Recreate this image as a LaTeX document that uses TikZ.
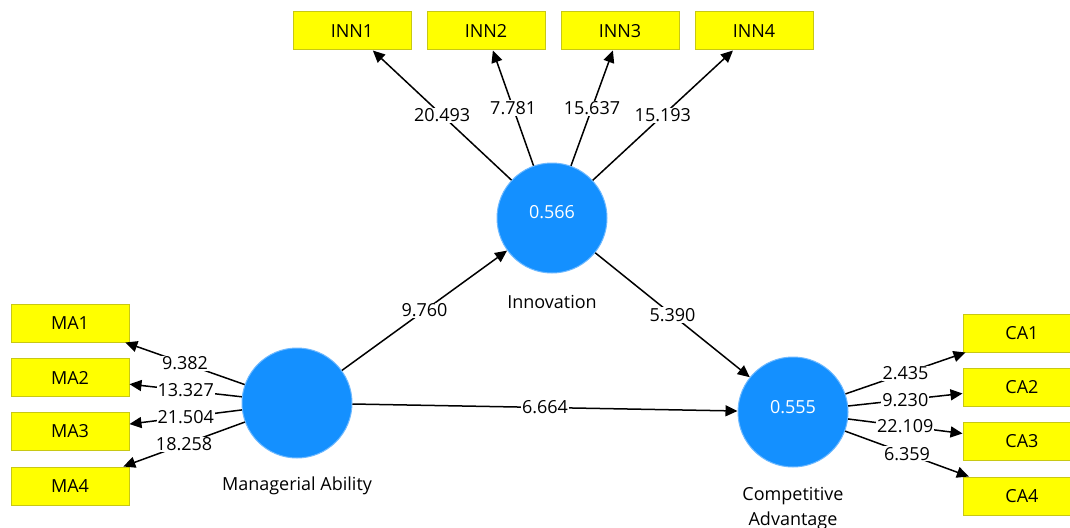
\documentclass[tikz,border=0pt]{standalone}
\usepackage{fontspec}
\setmainfont{Open Sans}
\usetikzlibrary{arrows.meta}
\definecolor{lvblue}{RGB}{20,144,255}
\definecolor{lvrim}{RGB}{110,185,255}
\definecolor{indfill}{RGB}{255,255,0}
\definecolor{indrim}{RGB}{200,200,20}
\tikzset{
  every node/.style={font=\fontsize{18}{25}\selectfont},
  latent/.style={circle, fill=lvblue, draw=lvrim, line width=1pt,
    minimum size=110pt, inner sep=0pt, text=white},
  indicator/.style={rectangle, fill=indfill, draw=indrim, line width=1pt,
    minimum width=118pt, minimum height=38pt, inner sep=0pt},
  path/.style={line width=1.5pt, -{Triangle[length=12pt,width=11pt]}},
  coef/.style={fill=white, inner sep=1pt, midway},
  lvname/.style={inner sep=0pt, align=center}
}
\begin{document}
\begin{tikzpicture}[x=1pt,y=-1pt]
\useasboundingbox (0,0) rectangle (1070,527);

% latent variables
\node[latent] (inn) at (552,218) {};
\node[latent] (ma)  at (297,403) {};
\node[latent] (ca)  at (793,412) {};
\node[text=white] (innr2) at (552,212) {0.566};
\node[text=white] (car2)  at (793,407) {0.555};

\node[lvname] (innname) at (552,302) {Innovation};
\node[lvname] (maname)  at (297,486) {Managerial Ability};
\node[lvname, anchor=north] (caname) at (793,487) {Competitive\\Advantage};

% indicators
\node[indicator] (inn1) at (352,31) {INN1};
\node[indicator] (inn2) at (486,31) {INN2};
\node[indicator] (inn3) at (620,31) {INN3};
\node[indicator] (inn4) at (754,31) {INN4};

\node[indicator] (ma1) at (70,323)   {MA1};
\node[indicator] (ma2) at (70,377.5) {MA2};
\node[indicator] (ma3) at (70,431.5) {MA3};
\node[indicator] (ma4) at (70,486)   {MA4};

\node[indicator] (ca1) at (1022,333) {CA1};
\node[indicator] (ca2) at (1022,387) {CA2};
\node[indicator] (ca3) at (1022,441) {CA3};
\node[indicator] (ca4) at (1022,496) {CA4};

% outer loadings
\draw[path] (inn) -- node[coef] {20.493} (inn1);
\draw[path] (inn) -- node[coef] {7.781}  (inn2);
\draw[path] (inn) -- node[coef] {15.637} (inn3);
\draw[path] (inn) -- node[coef] {15.193} (inn4);

\draw[path] (ma) -- node[coef] {9.382}  (ma1);
\draw[path] (ma) -- node[coef] {13.327} (ma2);
\draw[path] (ma) -- node[coef] {21.504} (ma3);
\draw[path] (ma) -- node[coef] {18.258} (ma4);

\draw[path] (ca) -- node[coef] {2.435}  (ca1);
\draw[path] (ca) -- node[coef] {9.230}  (ca2);
\draw[path] (ca) -- node[coef] {22.109} (ca3);
\draw[path] (ca) -- node[coef] {6.359}  (ca4);

% structural paths
\draw[path] (ma)  -- node[coef] {9.760} (inn);
\draw[path] (inn) -- node[coef] {5.390} (ca);
\draw[path] (ma)  -- node[coef] {6.664} (ca);
\end{tikzpicture}
\end{document}
